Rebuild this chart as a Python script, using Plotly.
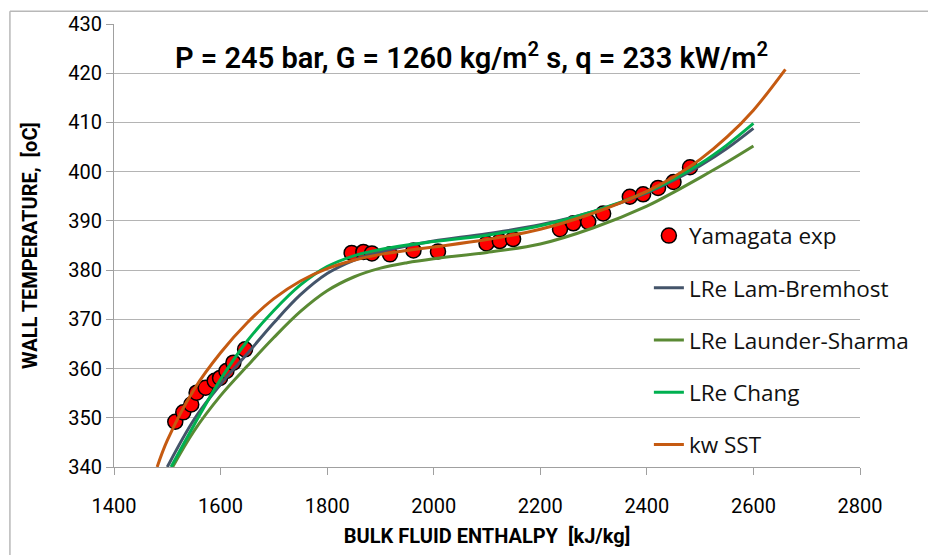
import plotly.graph_objects as go

# Experimental data (Yamagata)
exp_h = [1515, 1530, 1545, 1555, 1572, 1589, 1599, 1611, 1624, 1646,
         1846, 1868, 1884, 1918, 1962, 2008, 2099, 2124, 2149,
         2237, 2262, 2290, 2318, 2368, 2393, 2421, 2450, 2481]
exp_t = [349.2, 351.1, 352.7, 355.1, 356.1, 357.5, 358.1, 359.5, 361.2, 363.9,
         383.5, 383.7, 383.4, 383.2, 384.0, 383.8, 385.4, 385.9, 386.3,
         388.3, 389.5, 389.8, 391.5, 394.9, 395.4, 396.7, 397.9, 400.9]

# LRe Lam-Bremhost
lb_h = [1500, 1550, 1600, 1650, 1700, 1750, 1800, 1850, 1900, 1950, 2000, 2100, 2200, 2300, 2400, 2450, 2500, 2550, 2600]
lb_t = [340, 349.6, 356.8, 363.0, 369.3, 375.0, 379.3, 382.0, 383.7, 384.9, 385.9, 387.4, 389.2, 391.9, 395.7, 398.2, 401.2, 404.7, 408.8]

# LRe Launder-Sharma
ls_h = [1510, 1550, 1600, 1650, 1700, 1750, 1800, 1850, 1900, 1950, 2000, 2100, 2200, 2300, 2400, 2450, 2500, 2550, 2600]
ls_t = [340, 347.3, 354.5, 360.5, 366.3, 371.6, 375.8, 378.6, 380.4, 381.5, 382.3, 383.6, 385.3, 388.6, 393.0, 395.8, 398.8, 401.9, 405.2]

# LRe Chang
ch_h = [1507, 1550, 1600, 1650, 1700, 1750, 1800, 1850, 1900, 1950, 2000, 2100, 2200, 2300, 2400, 2450, 2500, 2550, 2600]
ch_t = [340, 348.5, 357.8, 365.6, 371.8, 377.0, 380.7, 382.9, 384.2, 385.1, 385.8, 387.1, 389.0, 391.9, 395.9, 398.5, 401.6, 405.4, 409.8]

# kw SST
kw_h = [1481, 1500, 1550, 1600, 1650, 1700, 1750, 1800, 1850, 1900, 1950, 2000, 2100, 2200, 2300, 2400, 2450, 2500, 2550, 2600, 2660]
kw_t = [340, 345.4, 355.7, 363.2, 369.3, 374.2, 377.8, 380.3, 382.0, 383.2, 384.0, 384.7, 386.2, 388.3, 391.6, 396.0, 398.9, 402.5, 407.0, 412.5, 420.8]

x_ticks = [1400, 1600, 1800, 2000, 2200, 2400, 2600, 2800]
y_ticks = [340, 350, 360, 370, 380, 390, 400, 410, 420, 430]

fig = go.Figure()

fig.add_trace(go.Scatter(
    x=exp_h, y=exp_t, mode="markers", name="Yamagata exp", legendgroup="a",
    marker=dict(color="#ff0000", size=15, line=dict(color="black", width=1.5))))

line_specs = [
    (lb_h, lb_t, "LRe Lam-Bremhost", "#44546a", "b"),
    (ls_h, ls_t, "LRe Launder-Sharma", "#5a8a34", "c"),
    (ch_h, ch_t, "LRe Chang", "#00b050", "d"),
    (kw_h, kw_t, "kw SST", "#c55a11", "e"),
]
for hx, ty, nm, col, grp in line_specs:
    fig.add_trace(go.Scatter(
        x=hx, y=ty, mode="lines", name=nm, legendgroup=grp,
        line=dict(color=col, width=3, shape="spline", smoothing=1.0)))

tick_font = dict(family="Roboto, sans-serif", size=20, color="black")
title_font = dict(family="Roboto, sans-serif", size=20, color="black")

fig.update_layout(
    width=928, height=555,
    margin=dict(l=114, r=68, t=23, b=87),
    paper_bgcolor="white", plot_bgcolor="white",
    showlegend=True,
    legend=dict(x=0.717, y=0.57, xanchor="left", yanchor="top",
                bgcolor="rgba(0,0,0,0)", traceorder="grouped", tracegroupgap=20,
                font=dict(family="Open Sans, sans-serif", size=22.5, color="#111111")),
    annotations=[dict(
        text="P = 245 bar, G = 1260 kg/m<sup>2</sup> s, q = 233 kW/m<sup>2</sup>",
        x=0.479, y=0.928, xref="paper", yref="paper", showarrow=False,
        xanchor="center", yanchor="middle",
        font=dict(family="Roboto, sans-serif", size=29, color="black", weight=600))],
    shapes=[
        dict(type="line", xref="paper", yref="paper", x0=-0.1395, x1=1.2, y0=1.029, y1=1.029,
             line=dict(color="#b8b8b8", width=1.5)),
        dict(type="line", xref="paper", yref="paper", x0=-0.1395, x1=-0.1395, y0=-0.3, y1=1.029,
             line=dict(color="#b8b8b8", width=1.5)),
    ],
)

fig.update_xaxes(
    range=[1400, 2800], tickvals=x_ticks, ticktext=[str(v) for v in x_ticks],
    showgrid=False, showline=True, linecolor="#a0a0a0", linewidth=1,
    ticks="outside", ticklen=7, tickcolor="#a0a0a0", ticklabelstandoff=14,
    tickfont=tick_font, zeroline=False,
    title=dict(text="<b>BULK FLUID ENTHALPY  [kJ/kg]</b>", font=title_font, standoff=11))

fig.update_yaxes(
    range=[340, 430], tickvals=y_ticks, ticktext=[str(v) for v in y_ticks],
    showgrid=True, gridcolor="#b4b4b4", gridwidth=1,
    showline=True, linecolor="#a0a0a0", linewidth=1,
    ticks="outside", ticklen=7, tickcolor="#a0a0a0",
    tickfont=tick_font, zeroline=False,
    title=dict(text="<b>WALL TEMPERATURE,  [oC]</b>", font=title_font, standoff=25))

fig.write_html("out.html", config={"displayModeBar": False},
               post_script="document.body.style.margin='0';document.body.style.overflow='hidden';")
